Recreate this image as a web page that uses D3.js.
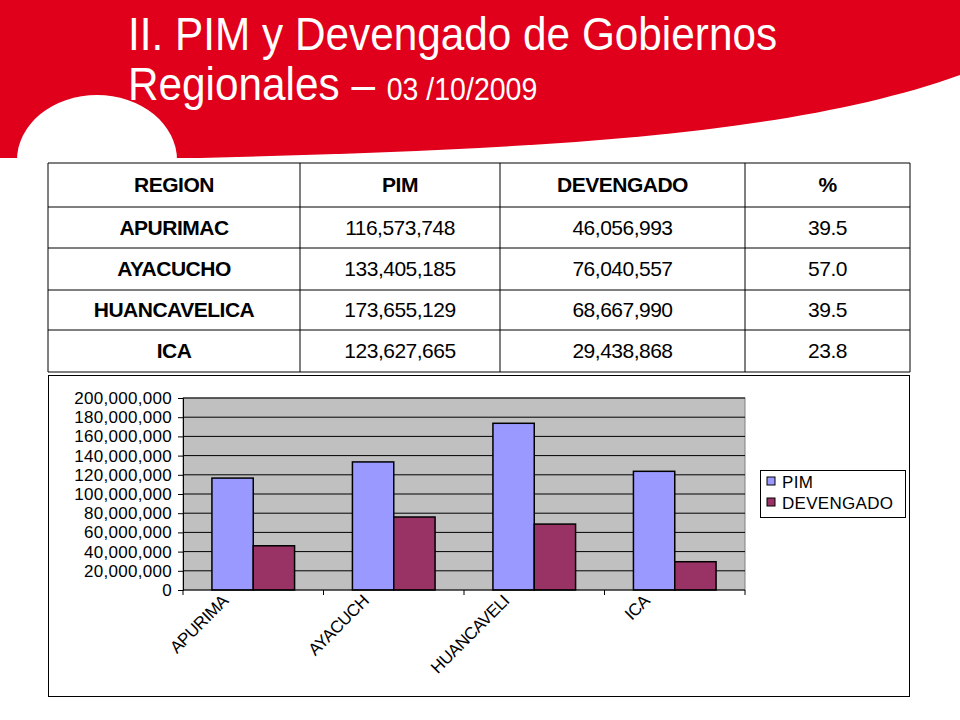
<!DOCTYPE html><html><head><meta charset="utf-8"><script src="https://cdn.jsdelivr.net/npm/d3@7"></script>
<style>body{margin:0;background:#fff}svg{display:block}</style></head><body><svg id="s" width="960" height="720"></svg>
<script>
const regions=["APURIMAC","AYACUCHO","HUANCAVELICA","ICA"];
const axisLabels=["APURIMA","AYACUCH","HUANCAVELI","ICA"];
const pim=[116573748,133405185,173655129,123627665];
const dev=[46056993,76040557,68667990,29438868];
const pct=["39.5","57.0","39.5","23.8"];
const headers=["REGION","PIM","DEVENGADO","%"];
const yTicks=[0,20e6,40e6,60e6,80e6,100e6,120e6,140e6,160e6,180e6,200e6];
const series=[{name:"PIM",values:pim,color:"#9999ff"},{name:"DEVENGADO",values:dev,color:"#993366"}];

const svg=d3.select("#s");
svg.append("path").attr("d","M0,0 H960 V75 C780,140 500,150 200,158 L0,158 Z").attr("fill","#e0001b");
svg.append("ellipse").attr("cx",97).attr("cy",160).attr("rx",80).attr("ry",65).attr("fill","#fff");
svg.append("rect").attr("x",0).attr("y",160).attr("width",960).attr("height",560).attr("fill","#fff");
const t=svg.append("g").attr("fill","#fff").attr("font-family","Liberation Sans, Arial, sans-serif")
  .attr("transform","translate(128,0) scale(0.92,1)");
t.append("text").attr("x",0).attr("y",50).attr("font-size",46).text("II. PIM y Devengado de Gobiernos");
const t2=t.append("text").attr("x",0).attr("y",100).attr("font-size",46);
t2.append("tspan").text("Regionales – ");t2.append("tspan").attr("font-size",31).text("03 /10/2009");

const colX=[48,300,500,745,910], rowY=[163,207,248,290,330,372];
const tb=svg.append("g").attr("font-family","Liberation Sans, Arial, sans-serif").attr("font-size",21);
const rows=[headers].concat(regions.map((r,i)=>[r,d3.format(",")(pim[i]),d3.format(",")(dev[i]),pct[i]]));
rows.forEach((row,ri)=>row.forEach((c,ci)=>{
  tb.append("text").attr("x",(colX[ci]+colX[ci+1])/2).attr("y",(rowY[ri]+rowY[ri+1])/2+7)
    .attr("text-anchor","middle").attr("font-weight",(ri==0||ci==0)?"bold":"normal").attr("letter-spacing","-0.5").text(c);
}));
rowY.forEach(y=>tb.append("line").attr("x1",48).attr("x2",910).attr("y1",y).attr("y2",y).attr("stroke","#000"));
colX.forEach(x=>tb.append("line").attr("x1",x).attr("x2",x).attr("y1",163).attr("y2",372).attr("stroke","#000"));

svg.append("rect").attr("x",48.5).attr("y",375.5).attr("width",861).attr("height",321).attr("fill","#fff").attr("stroke","#000");
const L=183,R=745,T=398,B=590;
const x=d3.scaleBand().domain(d3.range(4)).range([L,R]);
const xs=d3.scaleBand().domain([0,1]).range([0,x.bandwidth()]).paddingOuter(0.7).paddingInner(0);
const y=d3.scaleLinear().domain([0,200e6]).range([B,T]);
svg.append("rect").attr("x",L).attr("y",T).attr("width",R-L).attr("height",B-T).attr("fill","#c0c0c0").attr("stroke","#808080");
svg.append("g").selectAll("line").data(yTicks.slice(1)).join("line").attr("x1",L).attr("x2",R)
  .attr("y1",d=>y(d)).attr("y2",d=>y(d)).attr("stroke","#000");
const ya=svg.append("g").attr("transform",`translate(${L},0)`).call(d3.axisLeft(y).tickValues(yTicks).tickSize(5).tickPadding(6).tickFormat(d3.format(",")));
ya.selectAll("text").attr("font-family","Liberation Sans, Arial, sans-serif").attr("font-size",17).attr("letter-spacing","0.3").attr("fill","#000");
ya.select(".domain").attr("stroke","#000");
series.forEach((s,si)=>svg.append("g").selectAll("rect").data(s.values).join("rect")
  .attr("x",(d,i)=>x(i)+xs(si)).attr("width",xs.bandwidth()).attr("y",d=>y(d)).attr("height",d=>B-y(d))
  .attr("fill",s.color).attr("stroke","#000").attr("stroke-width",1.5));
svg.append("line").attr("x1",L).attr("x2",R).attr("y1",B).attr("y2",B).attr("stroke","#000");
svg.append("g").selectAll("line").data(d3.range(5)).join("line").attr("x1",d=>L+d*x.bandwidth()).attr("x2",d=>L+d*x.bandwidth())
  .attr("y1",B).attr("y2",B+5).attr("stroke","#000");
svg.append("g").selectAll("text").data(axisLabels).join("text")
  .attr("transform",(d,i)=>`translate(${x(i)+x.bandwidth()/2-24},${B+12}) rotate(-45)`)
  .attr("text-anchor","end").attr("font-family","Liberation Sans, Arial, sans-serif").attr("font-size",17).attr("letter-spacing","-0.5").text(d=>d);
const lg=svg.append("g");
lg.append("rect").attr("x",760.5).attr("y",470.5).attr("width",145).attr("height",47).attr("fill","#fff").attr("stroke","#000");
series.forEach((s,i)=>{
  lg.append("rect").attr("x",767).attr("y",477+i*21).attr("width",8).attr("height",8).attr("fill",s.color).attr("stroke","#000");
  lg.append("text").attr("x",782).attr("y",488+i*21).attr("font-family","Liberation Sans, Arial, sans-serif").attr("font-size",17).attr("letter-spacing","0.3").text(s.name);
});
</script></body></html>
